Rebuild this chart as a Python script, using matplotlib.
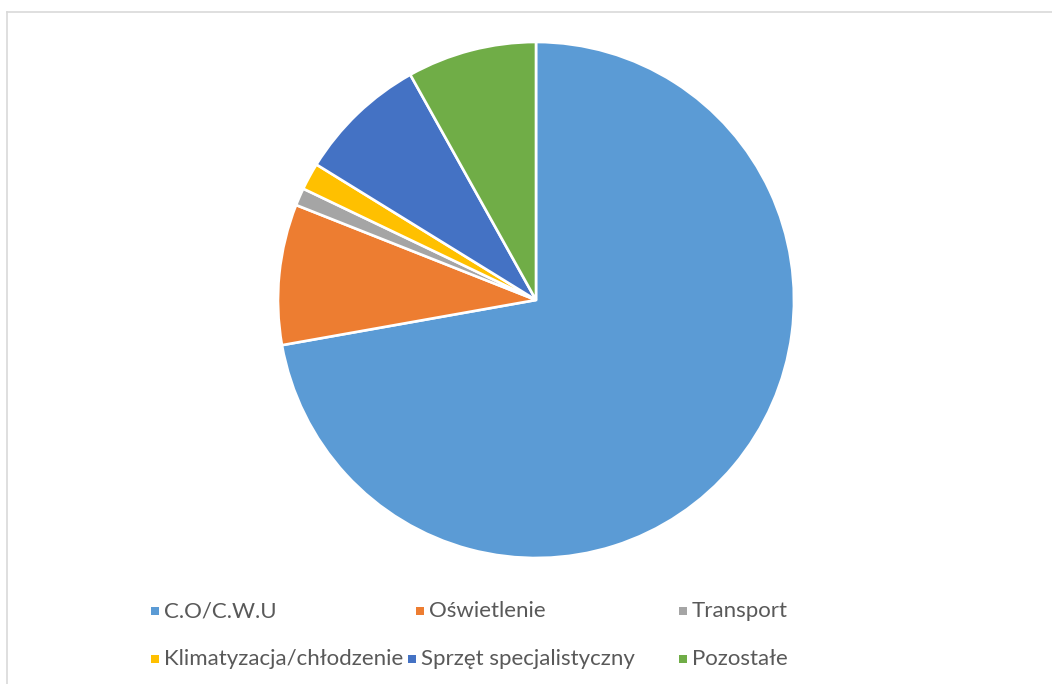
import matplotlib
matplotlib.use("Agg")
import matplotlib.pyplot as plt
from matplotlib.lines import Line2D
from matplotlib.patches import Rectangle

categories = ["C.O/C.W.U", "Oświetlenie", "Transport",
              "Klimatyzacja/chłodzenie", "Sprzęt specjalistyczny", "Pozostałe"]
shares = [72.2, 8.8, 1.1, 1.7, 8.1, 8.1]
colors = ["#5B9BD5", "#ED7D31", "#A5A5A5", "#FFC000", "#4472C4", "#70AD47"]

W, H = 1052, 684
fig = plt.figure(figsize=(W / 100, H / 100), dpi=100)
fig.patch.set_facecolor("white")

# chart frame (left and top edges visible)
fig.add_artist(Line2D([6.5 / W, 6.5 / W], [0, 1 - 11.5 / H], color="#d9d9d9", lw=1.2))
fig.add_artist(Line2D([6.5 / W, 1], [1 - 11.5 / H, 1 - 11.5 / H], color="#d9d9d9", lw=1.2))

cx, cy, r = 536, 300, 258
ax = fig.add_axes([(cx - r) / W, (H - cy - r) / H, 2 * r / W, 2 * r / H])
ax.pie(shares, colors=colors, startangle=90, counterclock=False, radius=1,
       wedgeprops=dict(edgecolor="white", linewidth=1.9))
ax.set_xlim(-1, 1)
ax.set_ylim(-1, 1)
ax.set_aspect("equal")
ax.axis("off")

# legend, three columns by two rows
col_x = [155, 420, 683, 155, 412, 683]
row_y = [611, 611, 611, 659, 659, 659]
for name, col, x, y in zip(categories, colors, col_x, row_y):
    s = 8
    fig.add_artist(Rectangle(((x - s / 2) / W, (H - y - s / 2) / H), s / W, s / H,
                             facecolor=col, edgecolor="none", transform=fig.transFigure))
    fig.text((x + 9) / W, (H - y) / H, name, fontsize=16, color="#595959",
             family="Lato", va="center", ha="left")

fig.savefig("out.png", dpi=100, facecolor="white")
